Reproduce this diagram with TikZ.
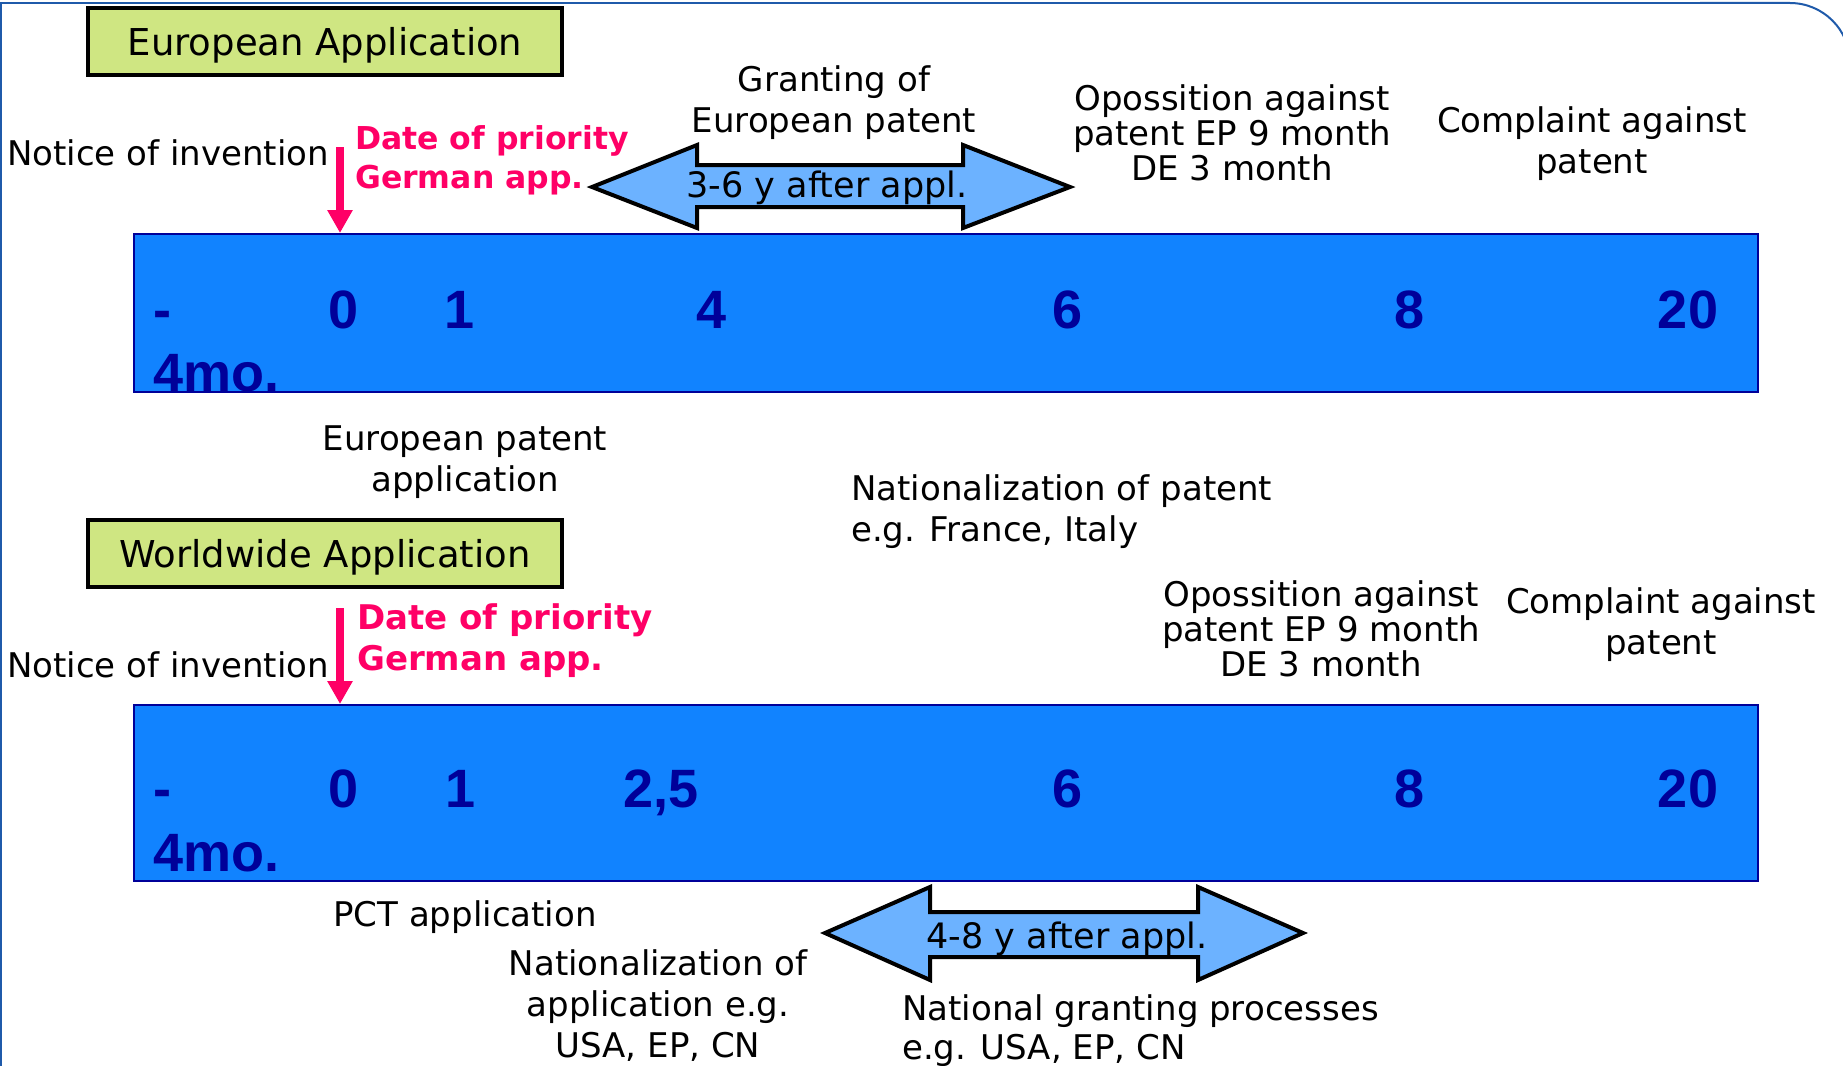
\documentclass[tikz,border=0pt]{standalone}
\usepackage{fontspec}
\setmainfont{DejaVu Sans}
\newfontfamily\numfont{Liberation Sans}
\usetikzlibrary{arrows.meta}
\definecolor{barblue}{RGB}{17,131,255}
\definecolor{barnavy}{RGB}{0,0,153}
\definecolor{arrowfill}{RGB}{108,178,255}
\definecolor{labelgreen}{RGB}{207,230,130}
\definecolor{priored}{RGB}{255,0,102}
\definecolor{framecol}{RGB}{31,90,170}
\tikzset{
  txt/.style={inner sep=0pt, font=\fontsize{34}{41}\selectfont, align=center},
  opptxt/.style={inner sep=0pt, font=\fontsize{34}{35}\selectfont, align=center},
  titlebox/.style={draw=black, line width=4pt, fill=labelgreen, inner sep=0pt,
    minimum width=474pt, minimum height=67pt, text height=28pt, text depth=0pt,
    font=\fontsize{37}{44}\selectfont},
  bar/.style={draw=barnavy, line width=2pt, fill=barblue, inner sep=0pt,
    minimum width=1624pt, anchor=north west},
  num/.style={inner sep=0pt, text=barnavy, font=\numfont\bfseries\fontsize{54}{63}\selectfont},
  prio/.style={draw=priored, line width=8pt, -{Triangle[width=24pt,length=23pt]}},
  priotxt/.style={inner sep=0pt, text=priored, align=left},
  dblarrow/.style={draw=black, line width=4pt, fill=arrowfill, miter limit=10},
  arrowtxt/.style={inner sep=0pt, font=\fontsize{35}{42}\selectfont},
  frame/.style={draw=framecol, line width=2pt}
}
\begin{document}
\begin{tikzpicture}[x=1pt,y=-1pt]
\useasboundingbox (0,0) rectangle (1843,1065);
% frame
\draw[frame] (1,1070) -- (1,3) -- (1750,3);
\draw[frame, rounded corners=60pt] (1700,3) -- (1850,3) -- (1850,1070);

% ---------- European application ----------
\node[titlebox] (ea) at (325,41.5) {European Application};
\node[bar, minimum height=158pt] (bar1) at (133,233) {};
\node[num, anchor=base west, align=left] (m1) at (153,391) {-\\4mo.};
\node[num, anchor=base] (a0) at (344,328) {0};
\node[num, anchor=base] (a1) at (460,328) {1};
\node[num, anchor=base] (a4) at (712,328) {4};
\node[num, anchor=base] (a6) at (1068,328) {6};
\node[num, anchor=base] (a8) at (1409,328) {8};
\node[num, anchor=base] (a20) at (1688,328) {20};

\node[txt, anchor=base west] (inv1) at (7,165) {Notice of invention};
\coordinate (pa1) at (340,147);
\draw[prio] (pa1) -- (pa1 |- bar1.north);
\node[priotxt, font=\bfseries\fontsize{31.5}{39}\selectfont, anchor=base west] (pr1) at (355,188) {Date of priority\\German app.};

\draw[dblarrow] (592,187) -- (697,145) -- (697,165) -- (963,165) -- (963,145) -- (1070,187)
  -- (963,228) -- (963,207) -- (697,207) -- (697,228) -- cycle;
\node[arrowtxt, anchor=base] (d1) at (827,197) {3-6 y after appl.};

\node[txt, anchor=base] (grant) at (834,132) {Granting of\\European patent};
\node[opptxt, anchor=base] (opp1) at (1232,180) {Opossition against\\patent EP 9 month\\DE 3 month};
\node[txt, anchor=base] (comp1) at (1592,173) {Complaint against\\patent};
\node[txt, anchor=base] (epa) at (465,491) {European patent\\application};
\node[txt, anchor=base west, align=left] (natp) at (851,541) {Nationalization of patent\\e.g. France, Italy};

% ---------- Worldwide application ----------
\node[titlebox] (wa) at (325,553.5) {Worldwide Application};
\node[bar, minimum height=176pt] (bar2) at (133,704) {};
\node[num, anchor=base west, align=left, font=\numfont\bfseries\fontsize{54}{64}\selectfont] (m2) at (153,871) {-\\4mo.};
\node[num, anchor=base] (b0) at (344,807) {0};
\node[num, anchor=base] (b1) at (461,807) {1};
\node[num, anchor=base] (b25) at (661,807) {2,5};
\node[num, anchor=base] (b6) at (1068,807) {6};
\node[num, anchor=base] (b8) at (1409,807) {8};
\node[num, anchor=base] (b20) at (1688,807) {20};

\node[txt, anchor=base west] (inv2) at (7,677) {Notice of invention};
\coordinate (pa2) at (340,608);
\draw[prio] (pa2) -- (pa2 |- bar2.north);
\node[priotxt, font=\bfseries\fontsize{34}{41}\selectfont, anchor=base west] (pr2) at (357,670) {Date of priority\\German app.};

\node[opptxt, anchor=base] (opp2) at (1321,676) {Opossition against\\patent EP 9 month\\DE 3 month};
\node[txt, anchor=base] (comp2) at (1661,654) {Complaint against\\patent};
\node[txt, anchor=base] (pct) at (465,926) {PCT application};
\node[txt, anchor=base] (nata) at (658,1057) {Nationalization of\\application e.g.\\USA, EP, CN};

\draw[dblarrow] (825,933) -- (930,887) -- (930,912) -- (1198,912) -- (1198,887) -- (1303,933)
  -- (1198,980) -- (1198,957) -- (930,957) -- (930,980) -- cycle;
\node[arrowtxt, anchor=base] (d2) at (1067,948) {4-8 y after appl.};
\node[txt, anchor=base west, align=left, font=\fontsize{34}{39}\selectfont] (natg) at (902,1059) {National granting processes\\e.g. USA, EP, CN};
\end{tikzpicture}
\end{document}
